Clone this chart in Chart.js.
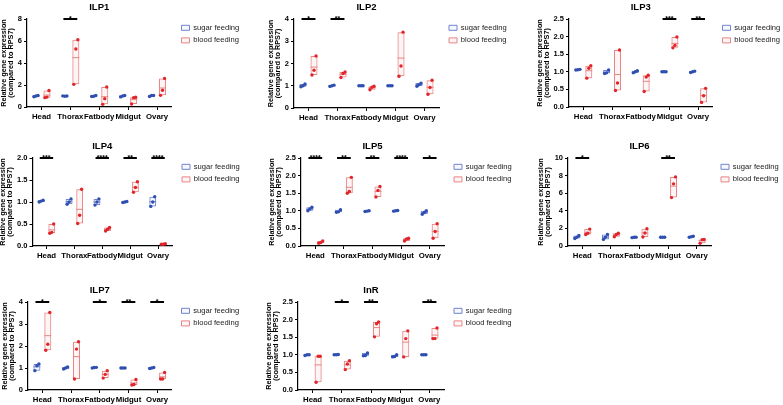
<!DOCTYPE html>
<html>
<head>
<meta charset="utf-8">
<script src="https://cdn.jsdelivr.net/npm/chart.js@4.4.1/dist/chart.umd.min.js"></script>
<style>
  html, body { margin: 0; padding: 0; background: #fff; }
  body { width: 783px; height: 405px; position: relative; overflow: hidden; }
  .cell { position: absolute; }
</style>
</head>
<body>
<script>
// tissues on the x axis
const tissues = ["Head", "Thorax", "Fatbody", "Midgut", "Ovary"];

// three replicates per tissue
const ilp1Sugar = [[1.05, 1.0, 0.93], [1.0, 0.98, 1.01], [1.05, 0.98, 0.95], [1.05, 1.0, 0.92], [1.05, 1.05, 0.95]];
const ilp1Blood = [[1.5, 0.9, 0.85], [6.12, 5.27, 2.06], [1.82, 0.76, 0.24], [0.88, 0.85, 0.27], [2.6, 1.52, 1.06]];
const ilp1Stars = ["", "*", "", "", ""];

const ilp2Sugar = [[1.08, 1.0, 0.95], [1.03, 1.0, 0.97], [1.0, 1.0, 1.0], [1.0, 1.0, 1.0], [1.12, 1.05, 0.98]];
const ilp2Blood = [[2.34, 1.7, 1.48], [1.62, 1.55, 1.37], [0.98, 0.93, 0.82], [3.41, 1.89, 1.43], [1.25, 0.92, 0.62]];
const ilp2Stars = ["*", "**", "", "", ""];

const ilp3Sugar = [[1.07, 1.06, 1.05], [1.05, 0.97, 0.95], [1.03, 1.0, 0.97], [1.0, 1.0, 1.0], [1.02, 1.0, 0.98]];
const ilp3Blood = [[1.17, 1.1, 0.82], [1.62, 0.68, 0.47], [0.9, 0.85, 0.44], [1.99, 1.75, 1.68], [0.53, 0.32, 0.13]];
const ilp3Stars = ["", "", "", "***", "**"];

const ilp4Sugar = [[1.04, 1.02, 1.0], [1.07, 1.0, 0.95], [1.07, 1.0, 0.93], [1.01, 1.0, 0.99], [1.12, 1.0, 0.9]];
const ilp4Blood = [[0.5, 0.31, 0.29], [1.29, 0.7, 0.51], [0.42, 0.38, 0.34], [1.46, 1.33, 1.22], [0.05, 0.04, 0.04]];
const ilp4Stars = ["***", "", "****", "**", "****"];

const ilp5Sugar = [[1.1, 1.05, 1.0], [1.03, 0.97, 0.96], [1.0, 0.99, 0.98], [1.01, 1.0, 0.99], [1.0, 0.95, 0.9]];
const ilp5Blood = [[0.14, 0.1, 0.08], [1.95, 1.55, 1.5], [1.69, 1.58, 1.39], [0.22, 0.2, 0.14], [0.63, 0.41, 0.22]];
const ilp5Stars = ["****", "**", "**", "****", "*"];

const ilp6Sugar = [[1.2, 1.0, 0.85], [1.3, 1.0, 0.75], [1.0, 1.0, 0.95], [1.0, 1.0, 1.0], [1.1, 1.05, 1.0]];
const ilp6Blood = [[1.92, 1.45, 1.3], [1.45, 1.3, 1.05], [1.96, 1.47, 1.02], [7.85, 7.06, 5.5], [0.75, 0.72, 0.3]];
const ilp6Stars = ["*", "", "", "**", ""];

const ilp7Sugar = [[1.18, 1.1, 0.88], [1.05, 1.0, 0.95], [1.03, 1.02, 1.0], [1.0, 1.0, 1.0], [1.02, 1.0, 0.98]];
const ilp7Blood = [[3.52, 2.08, 1.81], [2.19, 1.86, 0.5], [0.88, 0.71, 0.54], [0.48, 0.25, 0.23], [0.8, 0.5, 0.5]];
const ilp7Stars = ["*", "", "*", "**", "*"];

const inrSugar = [[1.0, 1.0, 0.98], [1.01, 1.0, 1.0], [1.05, 0.98, 0.97], [1.0, 0.95, 0.94], [1.0, 1.0, 1.0]];
const inrBlood = [[0.96, 0.96, 0.22], [0.83, 0.74, 0.58], [1.93, 1.88, 1.51], [1.68, 1.46, 0.94], [1.76, 1.46, 1.46]];
const inrStars = ["", "*", "**", "", "**"];

// y axis ranges
const genes = ["ILP1", "ILP2", "ILP3", "ILP4", "ILP5", "ILP6", "ILP7", "InR"];
const yMax = [8, 4, 2.5, 2, 2.5, 10, 4, 2.5];
const yStep = [2, 1, 0.5, 0.5, 0.5, 2, 1, 0.5];

const sugarSets = [ilp1Sugar, ilp2Sugar, ilp3Sugar, ilp4Sugar, ilp5Sugar, ilp6Sugar, ilp7Sugar, inrSugar];
const bloodSets = [ilp1Blood, ilp2Blood, ilp3Blood, ilp4Blood, ilp5Blood, ilp6Blood, ilp7Blood, inrBlood];
const starSets = [ilp1Stars, ilp2Stars, ilp3Stars, ilp4Stars, ilp5Stars, ilp6Stars, ilp7Stars, inrStars];

// layout: top-left of each cell, and where its plot area should sit (page coords)
const cells = [[-12, 0], [248, 0], [508, 0], [-12, 135], [248, 135], [508, 135], [-12, 270], [248, 270]];
const areas = [
    [27, 19, 171.5, 107], [294, 19, 439, 108], [569, 19, 712.5, 107],
    [32.5, 158, 172, 246], [301, 158, 444, 246], [568, 158, 711, 246],
    [28, 302, 171.5, 390], [298, 302, 444, 390]
];
const CELL_W = 295, CELL_H = 135;

const SUGAR_BOX = "#7083d4", SUGAR_DOT = "#2f4fb0";
const BLOOD_BOX = "#e98484", BLOOD_DOT = "#e0262b";
const OFFSET = 0.19;           // bar centre offset from tissue centre (x units)
const JITTER = [0.07, 0, -0.07];

Chart.defaults.font.family = '"Liberation Sans", Arial, sans-serif';
Chart.defaults.color = "#000";

function ranges(groups, off) {
    return groups.map((g, i) => ({ x: i + off, y: [Math.min(...g), Math.max(...g)] }));
}

function means(groups, off) {
    return groups.map((g, i) => ({ x: i + off, y: g.reduce((a, b) => a + b, 0) / g.length }));
}

function dots(groups, off) {
    const out = [];
    groups.forEach((g, i) => g.forEach((v, k) => out.push({ x: i + off + JITTER[k], y: v })));
    return out;
}

function sigLines(stars, top) {
    const out = [];
    stars.forEach((s, i) => {
        if (!s) return;
        out.push({ x: i - 0.24, y: top }, { x: i + 0.24, y: top }, { x: i + 0.5, y: null });
    });
    return out;
}

function starPlugin(stars, top) {
    return {
        id: "stars",
        afterDatasetsDraw(chart) {
            const { ctx, scales } = chart;
            ctx.save();
            ctx.font = 'bold 7px "Liberation Sans", Arial, sans-serif';
            ctx.fillStyle = "#000";
            ctx.textAlign = "center";
            ctx.textBaseline = "alphabetic";
            stars.forEach((s, i) => {
                if (s) ctx.fillText(s, scales.x.getPixelForValue(i), scales.y.getPixelForValue(top) + 2);
            });
            ctx.restore();
        }
    };
}

function makePanel(idx) {
    const [cx, cy] = cells[idx];
    const div = document.createElement("div");
    div.className = "cell";
    div.style.left = cx + "px";
    div.style.top = cy + "px";
    div.style.width = CELL_W + "px";
    div.style.height = CELL_H + "px";
    const canvas = document.createElement("canvas");
    canvas.width = CELL_W;
    canvas.height = CELL_H;
    div.appendChild(canvas);
    document.body.appendChild(div);

    const sugar = sugarSets[idx], blood = bloodSets[idx], stars = starSets[idx];
    const top = yMax[idx], step = yStep[idx];
    const pad = { left: 0, top: 0, right: 0, bottom: 0 };

    const axisGrid = { display: true, drawOnChartArea: false, drawTicks: true, tickLength: 3, color: "#000", lineWidth: 1, offset: false };

    const chart = new Chart(canvas, {
        type: "bar",
        data: {
            datasets: [
                {
                    label: "sugar feeding", data: ranges(sugar, -OFFSET),
                    backgroundColor: "rgba(112,131,212,0.06)", borderColor: SUGAR_BOX, borderWidth: 1,
                    borderSkipped: false, grouped: false, categoryPercentage: 1, barPercentage: 0.64,
                    xAxisID: "x", yAxisID: "y", order: 10
                },
                {
                    label: "blood feeding", data: ranges(blood, OFFSET),
                    backgroundColor: "rgba(233,132,132,0.08)", borderColor: BLOOD_BOX, borderWidth: 1,
                    borderSkipped: false, grouped: false, categoryPercentage: 1, barPercentage: 0.64,
                    xAxisID: "x", yAxisID: "y", order: 10
                },
                {
                    type: "scatter", label: "sugar mean", data: means(sugar, -OFFSET),
                    pointStyle: "line", pointRadius: 3.5, pointBorderColor: SUGAR_BOX, pointBorderWidth: 1,
                    xAxisID: "x", yAxisID: "y", order: 5
                },
                {
                    type: "scatter", label: "blood mean", data: means(blood, OFFSET),
                    pointStyle: "line", pointRadius: 3.5, pointBorderColor: BLOOD_BOX, pointBorderWidth: 1,
                    xAxisID: "x", yAxisID: "y", order: 5
                },
                {
                    type: "scatter", label: "sugar", data: dots(sugar, -OFFSET),
                    pointRadius: 1.7, pointBackgroundColor: SUGAR_DOT, pointBorderWidth: 0,
                    xAxisID: "x", yAxisID: "y", order: 1
                },
                {
                    type: "scatter", label: "blood", data: dots(blood, OFFSET),
                    pointRadius: 1.7, pointBackgroundColor: BLOOD_DOT, pointBorderWidth: 0,
                    xAxisID: "x", yAxisID: "y", order: 1
                },
                {
                    type: "line", label: "sig", data: sigLines(stars, top),
                    borderColor: "#000", borderWidth: 2, pointRadius: 0, spanGaps: false, clip: false,
                    xAxisID: "x", yAxisID: "y", order: 0
                }
            ]
        },
        options: {
            responsive: false,
            animation: false,
            events: [],
            layout: { padding: pad },
            scales: {
                x: {
                    type: "linear", position: "bottom", offset: false, min: -0.5, max: 4.5,
                    afterBuildTicks: s => { s.ticks = tissues.map((t, i) => ({ value: i })); },
                    grid: axisGrid,
                    border: { display: true, color: "#000", width: 1.2 },
                    ticks: {
                        font: { size: 7.8, weight: "bold" }, color: "#000", padding: 2,
                        maxRotation: 0, autoSkip: false,
                        callback: v => tissues[v]
                    }
                },
                y: {
                    type: "linear", position: "left", min: 0, max: top,
                    grid: axisGrid,
                    border: { display: true, color: "#000", width: 1.2 },
                    ticks: {
                        stepSize: step, font: { size: 7.5, weight: "bold" }, color: "#000", padding: 2,
                        callback: v => step < 1 ? v.toFixed(1) : v
                    },
                    title: {
                        display: true,
                        text: ["Relative gene expression", "(compared to RPS7)"],
                        font: { size: 7.3, weight: "bold", lineHeight: 1.0 },
                        color: "#000", padding: { top: 0, bottom: 1 }
                    }
                },
                gap: {
                    type: "linear", position: "right", display: true,
                    ticks: { display: false }, grid: { display: false }, border: { display: false },
                    afterFit: s => { s.width = 5; }
                }
            },
            plugins: {
                title: {
                    display: true, text: genes[idx], fullSize: false, color: "#000",
                    font: { size: 9.5, weight: "bold" }, padding: { top: 0, bottom: 6 }
                },
                legend: {
                    display: true, position: "right", align: "start", fullSize: false, maxWidth: 160,
                    labels: {
                        boxWidth: 8, boxHeight: 5, padding: 5, color: "#222",
                        font: { size: 7.6 },
                        filter: item => item.datasetIndex < 2
                    }
                },
                tooltip: { enabled: false }
            }
        },
        plugins: [starPlugin(stars, top)]
    });

    // nudge the padding so the plot area lands where the reference has it
    const [l, t, r, b] = areas[idx];
    for (let pass = 0; pass < 2; pass++) {
        const a = chart.chartArea;
        pad.left += (l - cx) - a.left;
        pad.top += (t - cy) - a.top;
        pad.right += a.right - (r - cx);
        pad.bottom += a.bottom - (b - cy);
        chart.update();
    }
}

genes.forEach((g, i) => makePanel(i));
</script>
</body>
</html>
